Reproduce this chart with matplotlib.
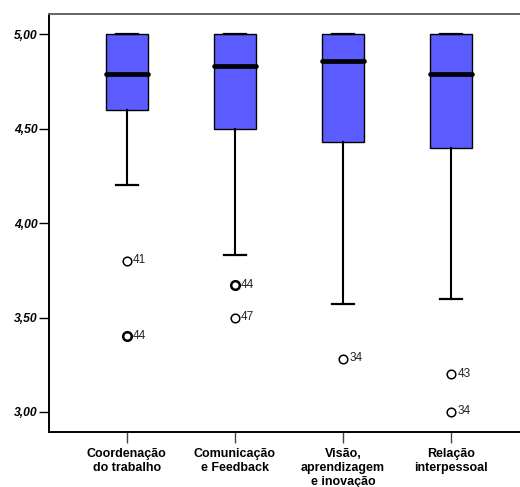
import matplotlib
matplotlib.use("Agg")
import matplotlib.pyplot as plt
from matplotlib.ticker import FuncFormatter

categories = ["Coordenação\ndo trabalho", "Comunicação\ne Feedback",
              "Visão,\naprendizagem\ne inovação", "Relação\ninterpessoal"]
q1 = [4.60, 4.50, 4.43, 4.40]
medians = [4.79, 4.83, 4.86, 4.79]
q3 = [5.00, 5.00, 5.00, 5.00]
whisker_low = [4.20, 3.83, 3.57, 3.60]
whisker_high = [5.00, 5.00, 5.00, 5.00]
outlier_values = [[3.80, 3.40], [3.67, 3.50], [3.28], [3.20, 3.00]]
outlier_labels = [["41", "44"], ["44", "47"], ["34"], ["43", "34"]]
outlier_counts = [[1, 2], [2, 1], [1], [1, 1]]
yticks = [3.00, 3.50, 4.00, 4.50, 5.00]

plt.rcParams['font.family'] = ['Liberation Sans', 'DejaVu Sans']

fig = plt.figure(figsize=(5.2, 4.87), dpi=100)
ax = fig.add_axes([48.7 / 520, 1 - 432 / 487, 1 - 48.7 / 520, (432 - 13.7) / 487])

positions = list(range(1, len(categories) + 1))
stats = []
for i in range(len(categories)):
    stats.append(dict(med=medians[i], q1=q1[i], q3=q3[i],
                      whislo=whisker_low[i], whishi=whisker_high[i], fliers=[]))

ax.bxp(stats, positions=positions, widths=0.39, patch_artist=True, showfliers=False,
       boxprops=dict(facecolor='#5a5cff', edgecolor='black', linewidth=1.0),
       medianprops=dict(color='black', linewidth=3.4, solid_capstyle='round'),
       whiskerprops=dict(color='black', linewidth=1.5),
       capprops=dict(color='black', linewidth=1.6),
       capwidths=0.2)

for i, (vals, labs, cnts) in enumerate(zip(outlier_values, outlier_labels, outlier_counts)):
    x = positions[i]
    for v, lab, c in zip(vals, labs, cnts):
        ax.plot([x], [v], marker='o', markersize=6.2, markerfacecolor='white',
                markeredgecolor='black', markeredgewidth=1.1 if c == 1 else 1.8,
                linestyle='none', zorder=5)
        ax.annotate(lab, (x, v), xytext=(4.5, 0.5), textcoords='offset points',
                    ha='left', va='center', fontsize=8.5, color='#222222')

ax.set_xlim(0.278, 4.636)
ax.set_ylim(2.894, 5.109)
ax.set_yticks(yticks)
ax.yaxis.set_major_formatter(FuncFormatter(lambda v, p: f"{v:.2f}".replace('.', ',')))
for t in ax.get_yticklabels():
    t.set_fontweight('bold')
    t.set_fontstyle('italic')
    t.set_fontsize(8.7)
ax.set_xticks(positions)
ax.set_xticklabels(categories, fontweight='bold', fontsize=9, linespacing=1.22)

ax.tick_params(axis='y', direction='out', length=7.5, width=1.0, pad=0.5, color='black')
ax.tick_params(axis='x', direction='out', length=8, width=1.0, pad=3.8, color='#444444')

ax.spines['right'].set_visible(False)
ax.spines['top'].set_color('#666666')
ax.spines['top'].set_linewidth(1.4)
ax.spines['left'].set_linewidth(1.4)
ax.spines['bottom'].set_linewidth(1.4)

fig.savefig("out.png", dpi=100)
